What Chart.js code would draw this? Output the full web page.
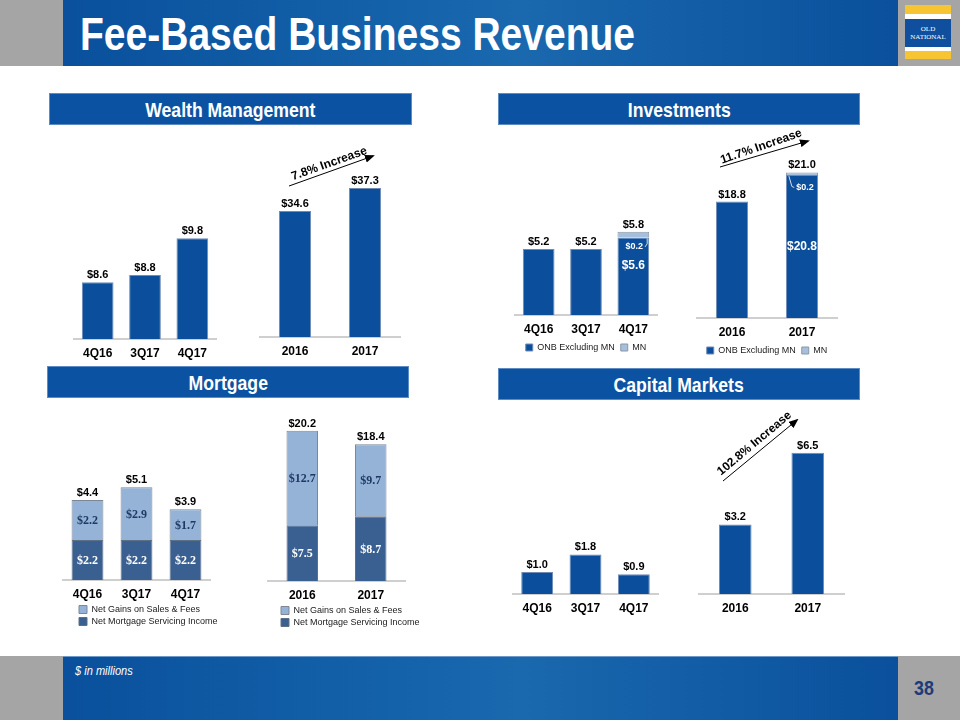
<!DOCTYPE html>
<html>
<head>
<meta charset="utf-8">
<title>Fee-Based Business Revenue</title>
<script src="https://cdn.jsdelivr.net/npm/chart.js@4"></script>
<style>
  body { margin: 0; background: #fff; }
  #slide { position: relative; width: 960px; height: 720px; overflow: hidden; background: #fff;
           font-family: "Liberation Sans", Arial, sans-serif; }
  .gray { position: absolute; background: #a5a5a5; }
  .band { position: absolute; left: 63px; width: 835px;
          background: linear-gradient(90deg, #0a509c 0%, #1462aa 40%, #1a68ae 55%, #0a509c 100%); }
  .sq { display: inline-block; white-space: nowrap; }
  #title { position: absolute; left: 80px; top: 10px; color: #fff; font-size: 47px; font-weight: bold;
           line-height: 1; white-space: nowrap; transform: scaleX(0.83); transform-origin: 0 0; }
  .sec { position: absolute; height: 32px; line-height: 31px; background: #0b53a2; color: #fff; text-align: center;
         font-size: 21px; font-weight: bold; box-sizing: border-box; border: 1px solid #5d8cc4; }
  .sec .sq { transform: scaleX(0.84); }
  .box { position: absolute; left: 0; top: 0; width: 200px; height: 200px; }
  #logo div { position: absolute; left: 0; width: 46px; }
  #ann { position: absolute; left: 0; top: 0; pointer-events: none; }
</style>
</head>
<body>
<div id="slide">
  <div class="gray" style="left:0;top:0;width:960px;height:66px"></div>
  <div class="band" style="top:0;height:66px"></div>
  <div id="title">Fee-Based Business Revenue</div>
  <div id="logo" style="position:absolute;left:905px;top:5px;width:46px;height:54px">
    <div style="top:0;height:9px;background:#f7c531"></div>
    <div style="top:9px;height:5px;background:#fff"></div>
    <div style="top:14px;height:28px;background:#0f4f9d;color:#fff;text-align:center;
                font:7px/8px 'Liberation Serif',serif;padding-top:6px;box-sizing:border-box">OLD<br>NATIONAL</div>
    <div style="top:42px;height:4px;background:#fff"></div>
    <div style="top:46px;height:8px;background:#f7c531"></div>
  </div>

  <div class="sec" style="left:49px;top:93px;width:363px"><span class="sq">Wealth Management</span></div>
  <div class="sec" style="left:498px;top:93px;width:362px"><span class="sq">Investments</span></div>
  <div class="sec" style="left:47px;top:366px;width:362px"><span class="sq">Mortgage</span></div>
  <div class="sec" style="left:498px;top:368px;width:362px"><span class="sq">Capital Markets</span></div>

  <div class="gray" style="left:0;top:656px;width:960px;height:64px"></div>
  <div class="band" style="top:656px;height:64px;border-top:1px solid #6d9acb"></div>
  <div style="position:absolute;left:75px;top:663px;color:#fff;font-size:13px;font-style:italic;
              transform:scaleX(0.85);transform-origin:0 0;white-space:nowrap">$ in millions</div>
  <div style="position:absolute;left:914px;top:676px;color:#1f3a78;font-size:21px;font-weight:bold;
              transform:scaleX(0.85);transform-origin:0 0">38</div>

  <svg id="ann" width="960" height="720">
    <defs>
      <marker id="ah" markerWidth="10" markerHeight="8" refX="8" refY="4" orient="auto" markerUnits="userSpaceOnUse">
        <path d="M0,0 L10,4 L0,8 z" fill="#000"/>
      </marker>
    </defs>
    <g font-family="Liberation Sans, Arial, sans-serif" font-weight="bold" font-size="12" text-anchor="middle" fill="#000">
      <line x1="289" y1="186" x2="373" y2="156" stroke="#000" stroke-width="1" marker-end="url(#ah)"/>
      <text x="329" y="167" transform="rotate(-19.7 329 163)">7.8% Increase</text>
      <line x1="720" y1="167" x2="808" y2="141" stroke="#000" stroke-width="1" marker-end="url(#ah)"/>
      <text x="761" y="150" transform="rotate(-19 761 146)">11.7% Increase</text>
      <line x1="723" y1="481" x2="797" y2="420" stroke="#000" stroke-width="1" marker-end="url(#ah)"/>
      <text x="754" y="447" transform="rotate(-40 754 443)">102.8% Increase</text>
    </g>
  </svg>
</div>

<script>
// categories
const quarters = ['4Q16', '3Q17', '4Q17'];
const years = ['2016', '2017'];

// Wealth Management
const wealthQ = [8.6, 8.8, 9.8];
const wealthY = [34.6, 37.3];

// Investments
const investOnbQ = [5.2, 5.2, 5.6];
const investMnQ = [null, null, 0.2];
const investOnbY = [18.8, 20.8];
const investMnY = [null, 0.2];

// Mortgage
const mortServQ = [2.2, 2.2, 2.2];
const mortGainQ = [2.2, 2.9, 1.7];
const mortServY = [7.5, 8.7];
const mortGainY = [12.7, 9.7];

// Capital Markets
const capitalQ = [1.0, 1.8, 0.9];
const capitalY = [3.2, 6.5];

const NAVY = '#0b4f9c';
const MN_BLUE = '#a6bfdd';
const MORT_DARK = '#3a6092';
const MORT_LIGHT = '#95b3d7';
const SANS = '"Liberation Sans", Arial, sans-serif';

// value labels on the bars
const barText = {
  id: 'barText',
  afterDatasetsDraw(chart, args, o) {
    const ctx = chart.ctx;
    const area = chart.chartArea;
    const yScale = chart.scales.y;
    const sets = chart.data.datasets;
    ctx.save();
    ctx.textAlign = 'center';
    chart.data.labels.forEach((lab, i) => {
      const first = chart.getDatasetMeta(0).data[i];
      let total = 0;
      sets.forEach(ds => { total += ds.data[i] || 0; });
      ctx.font = 'bold 11px ' + SANS;
      ctx.fillStyle = '#000';
      ctx.textBaseline = 'alphabetic';
      ctx.fillText('$' + total.toFixed(1), first.x, yScale.getPixelForValue(total) - 4);

      if (o.mode === 'mort') {
        ctx.font = 'bold 12px "Liberation Serif", "Times New Roman", serif';
        ctx.textBaseline = 'middle';
        sets.forEach((ds, d) => {
          const el = chart.getDatasetMeta(d).data[i];
          ctx.fillStyle = o.colors[d];
          ctx.fillText('$' + ds.data[i].toFixed(1), el.x, (el.y + el.base) / 2 + 1);
        });
      }

      if (o.mode === 'inv' && sets[1].data[i]) {
        const onb = chart.getDatasetMeta(0).data[i];
        const mn = chart.getDatasetMeta(1).data[i];
        const bottom = Math.min(onb.base, area.bottom);
        ctx.fillStyle = '#fff';
        ctx.textBaseline = 'middle';
        ctx.font = 'bold 12px ' + SANS;
        ctx.fillText('$' + sets[0].data[i].toFixed(1), onb.x, onb.y + (bottom - onb.y) * o.frac);
        ctx.font = 'bold 9px ' + SANS;
        const tx = onb.x + o.dx;
        const ty = mn.y + 15;
        const txt = '$' + sets[1].data[i].toFixed(1);
        ctx.fillText(txt, tx, ty);
        const half = ctx.measureText(txt).width / 2;
        ctx.strokeStyle = '#d6deea';
        ctx.lineWidth = 1;
        ctx.beginPath();
        if (o.side === 'right') {
          const ex = onb.x + onb.width / 2 - 2;
          ctx.moveTo(tx + half + 2, ty);
          ctx.lineTo(ex, ty - 3);
          ctx.lineTo(ex, mn.base + 1);
        } else {
          const ex = onb.x - onb.width / 2 + 3;
          ctx.moveTo(tx - half - 2, ty);
          ctx.lineTo(ex + 3, ty - 1);
          ctx.lineTo(ex, mn.base + 1);
        }
        ctx.stroke();
      }
    });
    ctx.restore();
  }
};

// moves a start-aligned legend to the right and lets it use the side padding
const legendShift = {
  id: 'legendShift',
  afterLayout(chart, args, o) {
    if (chart.legend && o.dx) {
      chart.legend.left += o.dx;
      chart.legend.right = chart.width;
    }
  }
};

const invLegend = {
  display: true, position: 'bottom', align: 'center',
  labels: { boxWidth: 7, boxHeight: 7, padding: 6, color: '#1a1a1a', font: { family: SANS, size: 9 } }
};
const mortLegend = {
  display: true, position: 'bottom', align: 'start', reverse: true,
  labels: { boxWidth: 8, boxHeight: 8, padding: 3, color: '#1a1a1a', font: { family: SANS, size: 9 } }
};

function navySet(data) {
  return [{ label: 'Revenue', data: data, backgroundColor: NAVY, borderColor: '#6f8bb5', borderWidth: 1 }];
}
function invSets(onb, mn) {
  return [
    { label: 'ONB Excluding MN', data: onb, backgroundColor: NAVY, borderColor: '#6f8bb5', borderWidth: 1 },
    { label: 'MN', data: mn, backgroundColor: MN_BLUE, borderColor: '#8d97a6', borderWidth: 1 }
  ];
}
function mortSets(serv, gain) {
  return [
    { label: 'Net Mortgage Servicing Income', data: serv, backgroundColor: MORT_DARK, borderColor: '#5e6f86', borderWidth: 1 },
    { label: 'Net Gains on Sales & Fees', data: gain, backgroundColor: MORT_LIGHT, borderColor: '#7d8796', borderWidth: 1 }
  ];
}

// area = [left, right, top, bottom] of the plot on the slide
const panels = [
  { labels: quarters, sets: navySet(wealthQ), area: [74, 216, 231, 339], y: [7.05, 10], pct: 0.67 },
  { labels: years, sets: navySet(wealthY), area: [260, 400, 165, 337], y: [19.8, 40], pct: 0.46 },
  { labels: quarters, sets: invSets(investOnbQ, investMnQ), area: [515, 657, 212, 315], y: [2.87, 6.5], pct: 0.67,
    legend: invLegend, text: { mode: 'inv', frac: 0.36, dx: 1, side: 'right' } },
  { labels: years, sets: invSets(investOnbY, investMnY), area: [697, 837, 146, 318], y: [10, 23], pct: 0.46,
    legend: invLegend, text: { mode: 'inv', frac: 0.5, dx: 3, side: 'left' } },
  { labels: quarters, sets: mortSets(mortServQ, mortGainQ), area: [63, 210, 471, 580], y: [0, 6], pct: 0.65,
    legend: mortLegend, shift: 13, text: { mode: 'mort', colors: ['#fff', '#1f3864'] } },
  { labels: years, sets: mortSets(mortServY, mortGainY), area: [268, 405, 410, 581], y: [0, 23], pct: 0.46,
    legend: mortLegend, shift: 10, text: { mode: 'mort', colors: ['#fff', '#1f3864'] } },
  { labels: quarters, sets: navySet(capitalQ), area: [513, 658, 528, 594], y: [0, 3], pct: 0.66 },
  { labels: years, sets: navySet(capitalY), area: [699, 844, 420, 594], y: [0, 8], pct: 0.45 }
];

const slide = document.getElementById('slide');
const ann = document.getElementById('ann');

panels.forEach(p => {
  const wrap = document.createElement('div');
  wrap.className = 'box';
  const canvas = document.createElement('canvas');
  wrap.appendChild(canvas);
  slide.insertBefore(wrap, ann);

  const chart = new Chart(canvas, {
    type: 'bar',
    data: {
      labels: p.labels,
      datasets: p.sets.map(s => Object.assign({ barPercentage: p.pct, categoryPercentage: 1 }, s))
    },
    options: {
      responsive: true,
      maintainAspectRatio: false,
      animation: false,
      layout: { padding: { top: 30, left: 20, right: 30, bottom: 4 } },
      plugins: {
        legend: p.legend || { display: false },
        tooltip: { enabled: false },
        barText: p.text || {},
        legendShift: { dx: p.shift || 0 }
      },
      scales: {
        x: {
          stacked: true,
          grid: { display: true, drawOnChartArea: false, color: 'rgba(0,0,0,0)', tickLength: 8 },
          border: { display: true, color: '#cfcfcf', width: 2 },
          ticks: { color: '#000', padding: 1, maxRotation: 0, autoSkip: false,
                   font: { family: SANS, size: 12, weight: 'bold', lineHeight: 1 } }
        },
        y: { display: false, stacked: true, min: p.y[0], max: p.y[1] }
      }
    },
    plugins: [barText, legendShift]
  });

  // size and move the canvas so the plot area lands on p.area
  const a = p.area;
  for (let k = 0; k < 3; k++) {
    const c = chart.chartArea;
    const w = wrap.clientWidth + (a[1] - a[0]) - (c.right - c.left);
    const h = wrap.clientHeight + (a[3] - a[2]) - (c.bottom - c.top);
    wrap.style.width = Math.round(w) + 'px';
    wrap.style.height = Math.round(h) + 'px';
    chart.resize();
  }
  const c = chart.chartArea;
  wrap.style.left = Math.round(a[0] - c.left) + 'px';
  wrap.style.top = Math.round(a[2] - c.top) + 'px';
});
</script>
</body>
</html>
